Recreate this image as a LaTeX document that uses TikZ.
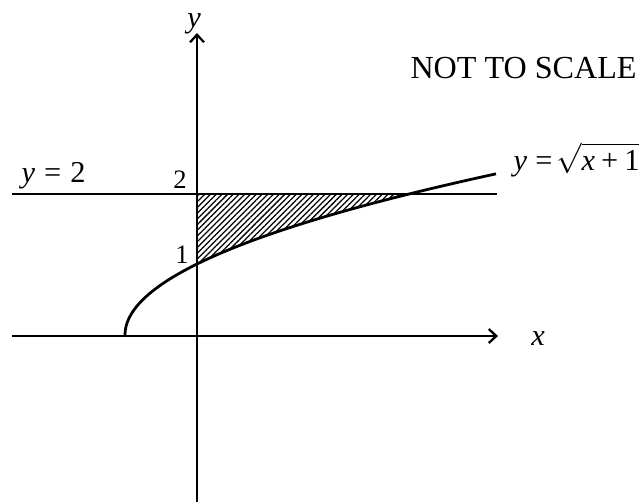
\documentclass[tikz,border=0pt]{standalone}
\usepackage{fontspec}
\setmainfont{Liberation Serif}
\usetikzlibrary{arrows.meta,patterns.meta}
\newcommand\myvar[1]{{\itshape #1}}
\begin{document}
\begin{tikzpicture}[x=0.3953pt,y=-0.3953pt,
  axisline/.style={line width=0.8pt},
  axisarrow/.style={line width=0.8pt,-{Straight Barb[length=3pt,width=5.5pt,line width=0.9pt]}},
  curveline/.style={line width=1.1pt},
  lbl/.style={font=\fontsize{10.5}{12}\selectfont, inner sep=0pt},
  eqlbl/.style={font=\fontsize{12}{14}\selectfont, inner sep=0pt},
  hatch/.style={pattern={Lines[angle=45,distance=1.6pt,line width=0.5pt]}}]
\useasboundingbox (0,0) rectangle (643,502);
% key points
\coordinate (xl) at (12,336);
\coordinate (xr) at (498,336);
\coordinate (yb) at (197,502);
\coordinate (yt) at (197,33);
\coordinate (hl) at (12,194);
\coordinate (hr) at (497,194);
\coordinate (p2) at (197,194);
\coordinate (p1) at (197,263);
\coordinate (pi) at (413,194);
% hatched region
\fill[hatch] (p2) -- (p1) -- plot[domain=1:2,samples=40] ({197+72*(\x*\x-1)},{335-71*\x}) -- (pi) -- cycle;
% axes
\draw[axisarrow] (xl) -- (xr);
\draw[axisarrow] (yb) -- (yt);
% line y = 2
\draw[axisline] (hl) -- (hr);
% curve
\draw[curveline] plot[domain=0:2.27,samples=80,smooth] ({197+72*(\x*\x-1)},{335-71*\x});
% labels
\node[eqlbl,anchor=base] (ylab) at (194,27) {\myvar{y}};
\node[eqlbl,anchor=base] (xlab) at (538,345) {\myvar{x}};
\node[eqlbl,anchor=base west] (ytwo) at (21,182) {\myvar{y}\hspace{0.3em}=\hspace{0.3em}2};
\node[lbl,anchor=base] (two) at (180,188) {2};
\node[lbl,anchor=base] (one) at (182,263) {1};
\node[eqlbl,anchor=base west] (eq) at (513,170) {\myvar{y}\hspace{0.28em}=\hspace{0.12em}$\sqrt{\mbox{\myvar{x}\hspace{0.2em}+\hspace{0.2em}1}}$};
\node[lbl,anchor=base west,font=\fontsize{12.7}{14}\selectfont] (nts) at (410,78) {NOT TO SCALE};
\end{tikzpicture}
\end{document}
